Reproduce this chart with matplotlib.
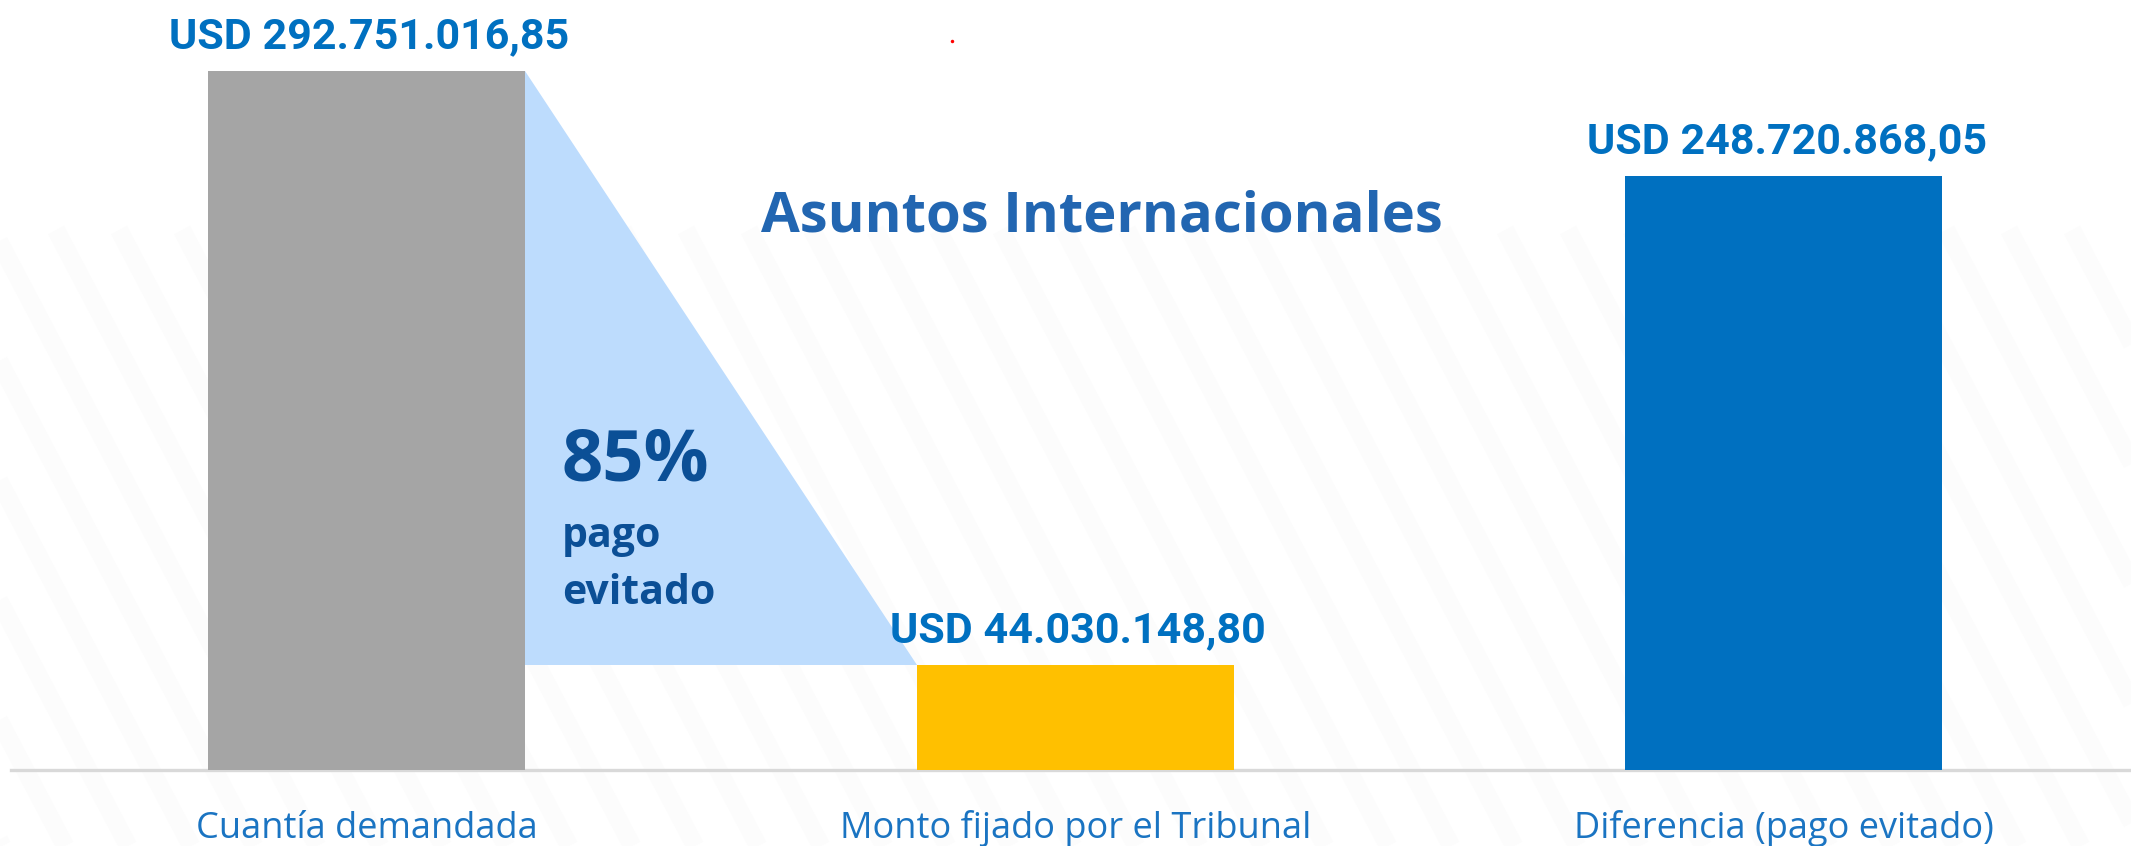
import matplotlib
matplotlib.use('Agg')
import matplotlib.pyplot as plt
from matplotlib import font_manager
from matplotlib.patches import Polygon
import numpy as np

# ---------------- data ----------------
categories = ["Cuantía demandada", "Monto fijado por el Tribunal", "Diferencia (pago evitado)"]
values = [292751016.85, 44030148.80, 248720868.05]
value_labels = ["USD 292.751.016,85", "USD 44.030.148,80", "USD 248.720.868,05"]
bar_colors = ["#a5a5a5", "#ffc000", "#0070c0"]
title_text = "Asuntos Internacionales"
pct_text = "85%"
pct_sub = ["pago", "evitado"]

# ---------------- layout ----------------
W, H, DPI = 2131, 846, 100
fig = plt.figure(figsize=(W / DPI, H / DPI), dpi=DPI)
fig.patch.set_facecolor("white")

avail = {f.name for f in font_manager.fontManager.ttflist}
narrow = "Liberation Sans Narrow" if "Liberation Sans Narrow" in avail else "Roboto"
body = "Open Sans" if "Open Sans" in avail else "DejaVu Sans"

# faint diagonal background stripes
bg = fig.add_axes([0, 0, 1, 1], zorder=0)
bg.set_xlim(0, W)
bg.set_ylim(H, 0)
bg.axis("off")
for x0 in np.arange(-700, W, 63):
    bg.plot([x0, x0 + (H - 230) / 1.9], [230, H], color="#fcfcfc", lw=13,
            solid_capstyle="butt")
bg.plot([952], [41], "o", color="#ff0000", ms=2.5, mec="none")

# main axes
ax = fig.add_axes([11 / W, 1 - 770 / H, 1 - 11 / W, 770 / H], zorder=1)
ax.patch.set_alpha(0)
x = np.arange(len(categories))
bw = 317 / 708.5
ax.bar(x, values, width=bw, color=bar_colors, zorder=3)
ax.set_xlim(-0.502, 2.490)
ax.set_ylim(0, 322.5e6)

for s in ["top", "right", "left"]:
    ax.spines[s].set_visible(False)
ax.spines["bottom"].set_color("#d9d9d9")
ax.spines["bottom"].set_linewidth(2.4)
ax.set_xticks([])
ax.set_yticks([])

# triangle connecting first bar to second
tri = Polygon([(x[0] + bw / 2, values[0]), (x[0] + bw / 2, values[1]),
               (x[1] - bw / 2, values[1])], closed=True,
              facecolor="#bddcfd", edgecolor="none", zorder=2)
ax.add_patch(tri)

# value labels
for xi, v, lbl in zip(x, values, value_labels):
    ax.annotate(lbl, (xi, v), xytext=(2, 16.5), textcoords="offset points",
                ha="center", va="baseline", fontsize=31, fontweight="bold",
                color="#0070c0", family=narrow, zorder=5)

# category labels
for xi, cat in zip(x, categories):
    ax.annotate(cat, (xi, 0), xytext=(0, -49), textcoords="offset points",
                ha="center", va="baseline", fontsize=26, color="#1a74c2",
                family=body, annotation_clip=False)

# title
fig.text(1102 / W, 1 - 232 / H, title_text, ha="center", va="baseline",
         fontsize=40.5, fontweight="bold", color="#2266b1", family=body, zorder=6)

# 85% annotation
fig.text(562 / W, 1 - 480 / H, pct_text, ha="left", va="baseline",
         fontsize=52, fontweight="bold", color="#0b4f96", family=body, zorder=6)
fig.text(562 / W, 1 - 547 / H, pct_sub[0], ha="left", va="baseline",
         fontsize=29.5, fontweight="bold", color="#0b4f96", family=body, zorder=6)
fig.text(562 / W, 1 - 604 / H, pct_sub[1], ha="left", va="baseline",
         fontsize=29.5, fontweight="bold", color="#0b4f96", family=body, zorder=6)

fig.savefig("out.png", dpi=DPI, facecolor="white")
